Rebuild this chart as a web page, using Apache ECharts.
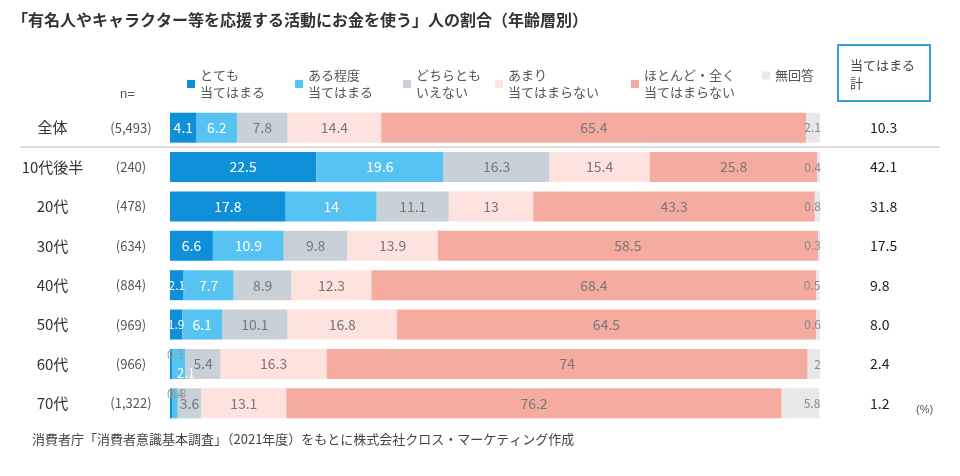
<!DOCTYPE html>
<html><head><meta charset="utf-8">
<script src="https://cdn.jsdelivr.net/npm/echarts@6/dist/echarts.min.js"></script>
<style>body{margin:0;background:#fff}#c{width:960px;height:476px}</style>
</head><body><div id="c"></div>
<script>
const categories = ['全体', '10代後半', '20代', '30代', '40代', '50代', '60代', '70代'];
const sampleN = ['(5,493)', '(240)', '(478)', '(634)', '(884)', '(969)', '(966)', '(1,322)'];
const totals = ['10.3', '42.1', '31.8', '17.5', '9.8', '8.0', '2.4', '1.2'];
const seriesNames = ['とても\n当てはまる', 'ある程度\n当てはまる', 'どちらとも\nいえない', 'あまり\n当てはまらない', 'ほとんど・全く\n当てはまらない', '無回答'];
const veryMuch = [4.1, 22.5, 17.8, 6.6, 2.1, 1.9, 0.3, 0.4];
const somewhat = [6.2, 19.6, 14.0, 10.9, 7.7, 6.1, 2.1, 0.8];
const neither = [7.8, 16.3, 11.1, 9.8, 8.9, 10.1, 5.4, 3.6];
const notMuch = [14.4, 15.4, 13.0, 13.9, 12.3, 16.8, 16.3, 13.1];
const notAtAll = [65.4, 25.8, 43.3, 58.5, 68.4, 64.5, 74.0, 76.2];
const noAnswer = [2.1, 0.4, 0.8, 0.3, 0.5, 0.6, 2.0, 5.8];

const values = [veryMuch, somewhat, neither, notMuch, notAtAll, noAnswer];
const colors = ['#0e8fd8', '#56c3f2', '#c8d0d8', '#fde2de', '#f5ab9f', '#e6e8ea'];
const legendX = [182, 290, 398, 490, 626, 757];
const textCol = ['#fff', '#fff', '#777', '#777', '#777', '#777'];

const chart = echarts.init(document.getElementById('c'));
const series = values.map((arr, si) => ({
  name: seriesNames[si], type: 'bar', stack: 's', barWidth: 30,
  itemStyle: {color: colors[si]},
  data: arr.map((v, i) => {
    const d = {value: v, label: {show: true, color: textCol[si], fontSize: 14, fontFamily: 'Noto Sans CJK JP'}};
    if (si === 5) { d.label.position = 'insideRight'; d.label.color = '#888'; d.label.fontSize = 12; d.label.offset = [6, 0]; }
    else if (v < 1) { d.label.position = 'insideTopLeft'; d.label.offset = [-8, -6]; d.label.color = '#999'; d.label.fontSize = 12; }
    else if (v < 2.5 && i >= 6) { d.label.position = 'insideBottomLeft'; d.label.offset = [0, 6]; d.label.fontSize = 13; }
    else if (v < 2.5) { d.label.fontSize = 12; }
    return d;
  })
}));

chart.setOption({
  animation: false,
  grid: {left: 170, right: 140, top: 108, bottom: 53},
  legend: seriesNames.map((n, i) => ({
    data: [n], left: legendX[i], top: 62, icon: 'rect', itemWidth: 8, itemHeight: 8,
    textStyle: {fontSize: 13, color: '#555', fontFamily: 'Noto Sans CJK JP', lineHeight: 17},
    selectedMode: false
  })),
  xAxis: {type: 'value', max: 100, show: false},
  yAxis: [
    {type: 'category', data: categories, inverse: true, axisLine: {show: false}, axisTick: {show: false},
     axisLabel: {margin: 8, formatter: (v, i) => '{a|' + v + '}{b|' + sampleN[i] + '}',
       rich: {a: {width: 95, align: 'center', fontSize: 15, color: '#333', fontFamily: 'Noto Sans CJK JP'},
              b: {width: 62, align: 'center', fontSize: 13, color: '#555', fontFamily: 'Noto Sans CJK JP'}}}},
    {type: 'category', data: totals, inverse: true, position: 'right', axisLine: {show: false}, axisTick: {show: false},
     axisLabel: {margin: 50, fontSize: 14, color: '#222', fontFamily: 'Noto Sans CJK JP'}}
  ],
  series: series,
  graphic: [
    {type: 'text', left: 12, top: 12, style: {text: '「有名人やキャラクター等を応援する活動にお金を使う」人の割合（年齢層別）', fontSize: 16, fontWeight: 'bold', fill: '#333', fontFamily: 'Noto Sans CJK JP'}},
    {type: 'text', left: 120, top: 88, style: {text: 'n=', fontSize: 13, fill: '#555'}},
    {type: 'rect', shape: {x: 838, y: 45, width: 92, height: 56}, style: {fill: 'none', stroke: '#3a9bd5', lineWidth: 2}},
    {type: 'text', left: 850, top: 56, style: {text: '当てはまる\n計', fontSize: 13, fill: '#444', align: 'center', x: 0, lineHeight: 18, fontFamily: 'Noto Sans CJK JP'}},
    {type: 'line', shape: {x1: 20, y1: 147, x2: 940, y2: 147}, style: {stroke: '#bbb', lineWidth: 1}},
    {type: 'text', left: 916, top: 404, style: {text: '(%)', fontSize: 11, fill: '#555'}},
    {type: 'text', left: 32, top: 433, style: {text: '消費者庁「消費者意識基本調査」（2021年度）をもとに株式会社クロス・マーケティング作成', fontSize: 13, fill: '#444', fontFamily: 'Noto Sans CJK JP'}}
  ]
});
</script></body></html>
